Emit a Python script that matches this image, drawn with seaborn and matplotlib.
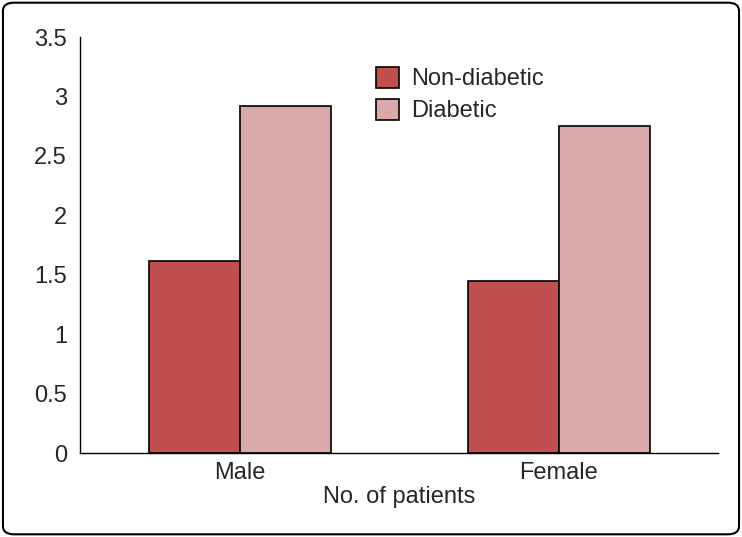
import matplotlib
matplotlib.use("Agg")
import matplotlib.pyplot as plt
import seaborn as sns
import pandas as pd
from matplotlib.patches import FancyBboxPatch

categories = ["Male", "Female"]
series = ["Non-diabetic", "Diabetic"]
non_diabetic = [1.62, 1.45]
diabetic = [2.92, 2.75]

df = pd.DataFrame({
    "cat": categories * 2,
    "series": [series[0]] * 2 + [series[1]] * 2,
    "val": non_diabetic + diabetic,
})

sns.set_style("white")
plt.rcParams["font.family"] = ["Liberation Sans", "DejaVu Sans"]
fig = plt.figure(figsize=(7.42, 5.37), dpi=100)
ax = fig.add_axes([0.108, 0.156, 0.86, 0.775])
sns.barplot(data=df, x="cat", y="val", hue="series", order=categories, hue_order=series,
            palette=["#C0504D", "#D9AAA9"], width=0.57, edgecolor="black", linewidth=1.2,
            saturation=1, ax=ax)
ax.set_xlim(-0.5, 1.5)
ax.set_ylim(0, 3.5)
ax.set_yticks([0, 0.5, 1, 1.5, 2, 2.5, 3, 3.5])
ax.set_yticklabels(["0", "0.5", "1", "1.5", "2", "2.5", "3", "3.5"])
ax.set_xticks([0, 1])
ax.set_xticklabels(categories)
ax.set_xticks([-0.5, 0.5, 1.5], minor=True)
ax.tick_params(axis="x", which="major", length=0, labelsize=17, pad=6)
ax.tick_params(axis="x", which="minor", length=6, width=1, color="black", direction="out")
ax.tick_params(axis="y", length=6, width=1, color="black", direction="out", labelsize=17)
for s in ["top", "right"]:
    ax.spines[s].set_visible(False)
for s in ["left", "bottom"]:
    ax.spines[s].set_color("black")
    ax.spines[s].set_linewidth(1)
ax.set_xlabel("No. of patients", fontsize=17, labelpad=2)
ax.set_ylabel("")
ax.legend(loc="upper left", bbox_to_anchor=(0.43, 0.98), frameon=False, fontsize=17,
          handlelength=1.0, handleheight=1.0, handletextpad=0.5, labelspacing=0.35)
fig.patches.append(FancyBboxPatch((0.004, 0.005), 0.992, 0.99, boxstyle="round,pad=0,rounding_size=0.015",
                                  transform=fig.transFigure, fill=False, edgecolor="black", linewidth=1.5))
fig.savefig("out.png", dpi=100)
